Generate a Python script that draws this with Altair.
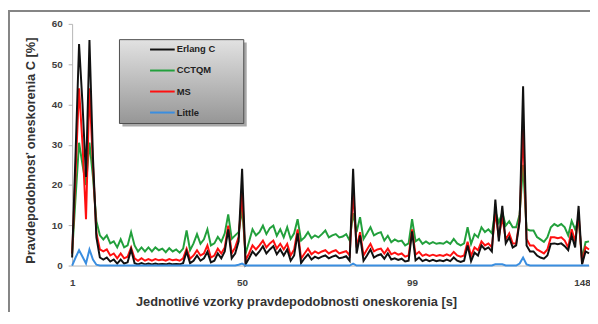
import altair as alt
import pandas as pd

FONT = "Liberation Sans"

SAMPLES = list(range(1, 151))
SERIES = ["Erlang C", "CCTQM", "MS", "Little"]
COLORS = ["#111111", "#22a03c", "#ff1010", "#3a8ee0"]
DRAW_ORDER = ["CCTQM", "MS", "Erlang C", "Little"]
X_TICKS = [1, 50, 99, 148]
Y_TICKS = [0, 10, 20, 30, 40, 50, 60]

erlang = [
    2, 28, 55, 40, 22, 56, 27, 7, 2, 1.5,
    2, 1, 1.5, 0.5, 1.5, 0.5, 0.8, 4, 0.6, 0.3,
    0.6, 0.3, 0.5, 0.3, 0.5, 0.3, 0.4, 0.3, 0.5, 0.3,
    0.4, 0.3, 0.6, 3.5, 0.6, 1.2, 2.5, 1.2, 1.8, 3.4,
    0.8, 1.2, 3, 1.8, 3.5, 9, 1.8, 3, 6, 24,
    0.3, 1.8, 3.5, 2.5, 3.5, 4.8, 3, 4, 4.8, 2.8,
    4, 2.5, 4, 1.2, 2.5, 8, 0.6, 1.8, 2.8, 1.5,
    2.2, 1.8, 2.2, 2.5, 1.8, 2.2, 2.5, 1.8, 2, 2.3,
    1.2, 24, 3, 7.5, 1.2, 2.5, 4, 2, 2.5, 2.8,
    1.7, 3, 1.5, 1.8, 1.4, 1.7, 1, 1.2, 8.5, 1.3,
    2, 1.1, 1.5, 1.1, 1.4, 1.1, 1.3, 1.1, 1.5, 1.1,
    2, 1.2, 0.9, 1.2, 5, 1.1, 3.2, 2.5, 5, 4,
    4.5, 3.5, 16.4, 6, 14.8, 5.5, 7, 4.5, 5, 11,
    44.5, 5, 3.5, 3.5, 2.5, 2, 1.7, 2.5, 5.4, 5.5,
    5.3, 5.5, 4.8, 3.8, 7.5, 4.5, 14.8, 0.3, 3.5, 3,
]

cctqm = [
    3, 17, 30.5, 25, 20, 30.5, 22, 11, 7.5, 6.5,
    7.5, 5.5, 6, 4.5, 6.5, 4.5, 5, 8.3, 5, 3.5,
    4.5, 3.5, 4.5, 3.5, 4.5, 3.8, 4.2, 3.3, 4.3, 3.5,
    4, 3.2, 4.2, 8.7, 3.8, 5.5, 7.8, 5.4, 6.5, 9,
    5, 5.5, 7.1, 5.9, 8, 12.7, 6.6, 7.5, 8.3, 14,
    3, 5.9, 9, 7.5, 8.3, 9.9, 7.8, 9.3, 9.9, 7.4,
    9, 7, 9.5, 6.6, 8, 11.5, 6.2, 7, 8.3, 6.8,
    7.5, 7, 7.8, 8.7, 7, 7.5, 7.8, 7, 7.2, 7.8,
    6.2, 13, 8.3, 12, 6.6, 8, 9.5, 7.5, 8, 8.3,
    6.2, 7.4, 5.8, 6.5, 6, 6.2, 5, 5.5, 11.5, 6,
    6.6, 5.4, 6, 5.4, 5.8, 5.4, 5.6, 5.4, 6, 5.4,
    6.6, 5.5, 5, 5.5, 9.5, 5.4, 7.8, 7, 9.5, 8.3,
    9, 8, 13.5, 10.7, 13.2, 9.9, 11, 9.5, 9.5, 12.7,
    25, 9, 8.7, 8.7, 7.1, 6.5, 5.9, 7, 9.5, 10.3,
    9.8, 10.3, 9.5, 7.5, 11.1, 9, 11.5, 1.5, 5.8, 6,
]

ms = [
    3, 23, 44, 30, 11.5, 44, 25, 8, 4, 3.5,
    4, 2.5, 3, 1.8, 3, 1.8, 2.2, 4.5, 1.8, 1.2,
    1.8, 1.2, 1.6, 1.2, 1.6, 1.3, 1.5, 1.2, 1.6, 1.3,
    1.5, 1.2, 1.8, 4.2, 1.7, 2.5, 3.8, 2.5, 3, 5,
    2, 2.5, 4.2, 3, 4.5, 9.9, 3, 4.5, 7.1, 18,
    1.3, 3, 5, 4, 5, 6.2, 4.5, 5.5, 6.2, 4.2,
    5.4, 4, 5.4, 2.5, 4, 9, 1.7, 3, 4.2, 2.8,
    3.5, 3, 3.5, 3.8, 3, 3.5, 3.8, 3, 3.3, 3.6,
    2.5, 18.5, 4.5, 8.3, 2.5, 4, 5.4, 3.5, 4, 4.2,
    3, 4.2, 2.8, 3.2, 2.7, 3, 2.2, 2.5, 9, 2.7,
    3.4, 2.4, 2.8, 2.4, 2.7, 2.4, 2.6, 2.4, 2.8, 2.4,
    3.4, 2.5, 2.2, 2.5, 5.9, 2.4, 4.5, 3.8, 6, 5,
    5.5, 4.5, 13.2, 7, 12, 6.5, 8, 5.5, 5.5, 11.5,
    34, 6.6, 5, 5, 4, 3.5, 3, 4, 7, 7,
    6.8, 7, 6.2, 4.5, 9, 6, 12.7, 0.5, 4.6, 4,
]

little = [
    0, 2, 3.8, 2.2, 0.5, 4, 1.5, 0.2, 0, 0,
    0, 0, 0, 0, 0, 0, 0, 0, 0, 0,
    0, 0, 0, 0, 0, 0, 0, 0, 0, 0,
    0, 0, 0, 0, 0, 0, 0, 0, 0, 0,
    0, 0, 0, 0, 0, 0, 0, 0, 0.2, 0.5,
    0, 0, 0, 0, 0, 0, 0, 0, 0, 0,
    0, 0, 0, 0, 0, 0, 0, 0, 0, 0,
    0, 0, 0, 0, 0, 0, 0, 0, 0, 0,
    0, 0.5, 0, 0, 0, 0, 0, 0, 0, 0,
    0, 0, 0, 0, 0, 0, 0, 0, 0, 0,
    0, 0, 0, 0, 0, 0, 0, 0, 0, 0,
    0, 0, 0, 0, 0, 0, 0, 0, 0, 0,
    0, 0, 0.3, 0.3, 0.3, 0, 0, 0, 0, 0.5,
    2, 0.3, 0, 0, 0, 0, 0, 0, 0, 0,
    0, 0, 0, 0, 0, 0, 0, 0, 0, 0,
]

df = pd.DataFrame({
    "sample": SAMPLES * 4,
    "series": [s for s in SERIES for _ in SAMPLES],
    "value": erlang + cctqm + ms + little,
})

color_scale = alt.Scale(domain=SERIES, range=COLORS)

x_enc = alt.X(
    "sample:Q",
    scale=alt.Scale(domain=[1, 150], nice=False, zero=False),
    axis=alt.Axis(
        values=X_TICKS, grid=False, ticks=False, domainColor="#b5b5b5",
        labelFont=FONT, labelFontSize=10, labelFontWeight="bold", labelColor="#404040",
        labelPadding=12, labelFlush=False,
        title="Jednotlivé vzorky pravdepodobnosti oneskorenia [s]",
        titleFont=FONT, titleFontSize=13, titleFontWeight="bold", titleColor="#333333",
        titleX=227, titleY=36, titleAlign="center", titleBaseline="middle",
    ),
)
y_enc = alt.Y(
    "value:Q",
    scale=alt.Scale(domain=[0, 60], nice=False),
    axis=alt.Axis(
        values=Y_TICKS, grid=False, tickSize=4, tickColor="#b5b5b5", domainColor="#b5b5b5",
        labelFont=FONT, labelFontSize=10, labelFontWeight="bold", labelColor="#404040",
        labelPadding=6,
        title="Pravdepodobnosť oneskorenia C [%]",
        titleFont=FONT, titleFontSize=13, titleFontWeight="bold", titleColor="#333333",
        titleX=-42, titleY=128, titleAngle=270, titleAlign="center", titleBaseline="middle",
    ),
)

base = alt.Chart(df)
lines = [
    base.transform_filter(alt.datum.series == name)
    .mark_line(strokeWidth=2)
    .encode(x=x_enc, y=y_enc, color=alt.Color("series:N", scale=color_scale, legend=None))
    for name in DRAW_ORDER
]
data_layer = alt.layer(*lines)

one = pd.DataFrame({"k": [0]})
frame = alt.Chart(one).mark_rect(filled=False, stroke="#858585", strokeWidth=2).encode(
    x=alt.value(-64), x2=alt.value(700), y=alt.value(-13), y2=alt.value(400)
)

shadow = alt.Chart(one).mark_rect(color="#6e6e6e", opacity=0.6).encode(
    x=alt.value(51), x2=alt.value(177), y=alt.value(19), y2=alt.value(104)
)
gradient = alt.LinearGradient(
    gradient="linear",
    stops=[alt.GradientStop(color="#e2e2e2", offset=0), alt.GradientStop(color="#969696", offset=1)],
    x1=0, x2=0, y1=0, y2=1,
)
box = alt.Chart(one).mark_rect(color=gradient, stroke="#4d4d4d", strokeWidth=1).encode(
    x=alt.value(48), x2=alt.value(174), y=alt.value(16), y2=alt.value(101)
)

leg_df = pd.DataFrame({"series": SERIES})
leg_base = alt.Chart(leg_df).transform_window(idx="row_number()").transform_calculate(
    ly="26 + (datum.idx - 1) * 21.3"
)
leg_rule = leg_base.mark_rule(strokeWidth=2).encode(
    x=alt.value(79), x2=alt.value(104),
    y=alt.Y("ly:Q", scale=None, axis=None),
    color=alt.Color("series:N", scale=color_scale, legend=None),
)
leg_text = leg_base.mark_text(
    align="left", baseline="middle", font=FONT, fontSize=9.5, fontWeight="bold", color="#222222"
).encode(
    x=alt.value(106),
    y=alt.Y("ly:Q", scale=None, axis=None),
    text="series:N",
)

chart = alt.layer(frame, data_layer, shadow, box, leg_rule, leg_text).resolve_scale(
    y="independent"
).properties(
    width=524,
    height=245,
    padding={"left": 65, "top": 14, "right": 1, "bottom": 45},
    autosize=alt.AutoSizeParams(type="none"),
    background="white",
).configure_view(stroke=None)

chart.save("out.html", embed_options={"renderer": "svg", "actions": False})
